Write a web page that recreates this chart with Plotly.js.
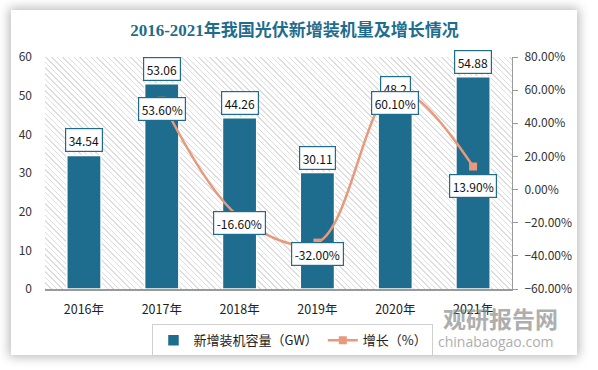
<!DOCTYPE html>
<html>
<head>
<meta charset="utf-8">
<script src="https://cdn.plot.ly/plotly-3.0.1.min.js"></script>
<style>
  html, body { margin:0; padding:0; background:#ffffff; width:598px; height:370px; overflow:hidden; }
  #card { position:absolute; left:11px; top:10px; width:566px; height:345px; background:#fff;
          box-shadow:0 0 10px 2px rgba(0,0,0,0.28); }
  #hatch { position:absolute; left:45px; top:57px; width:467px; height:232px;
           background:repeating-linear-gradient(45deg, #dedede 0px, #dedede 1px, rgba(255,255,255,0) 1px, rgba(255,255,255,0) 4px); }
  #chart { position:absolute; left:0; top:0; width:598px; height:370px; }
</style>
</head>
<body>
<div id="card"></div>
<div id="hatch"></div>
<div id="chart"></div>
<script>
// ---- data ----
const years = ['2016年', '2017年', '2018年', '2019年', '2020年', '2021年'];
const capacity = [34.54, 53.06, 44.26, 30.11, 48.2, 54.88];
const capacityLabels = ['34.54', '53.06', '44.26', '30.11', '48.2', '54.88'];
const growth = [null, 53.60, -16.60, -32.00, 60.10, 13.90];
const growthLabels = ['', '53.60%', '-16.60%', '-32.00%', '60.10%', '13.90%'];

// ---- styles ----
const barColor = '#1f6d8e';
const lineColor = '#e9997b';
const growthLabelShift = [0, -8, -6, -11, -13, -19];
const fontFam = '"Noto Sans CJK SC", "Noto Sans", sans-serif';

const traces = [
  {
    type: 'bar', name: '新增装机容量（GW）', x: years, y: capacity,
    marker: { color: barColor, line: { color: '#ffffff', width: 1.5 } },
    width: 0.44, hoverinfo: 'skip'
  },
  {
    type: 'scatter', mode: 'lines+markers', name: '增长（%）', x: years, y: growth, yaxis: 'y2',
    line: { color: lineColor, width: 2.5, shape: 'spline', smoothing: 1 },
    marker: { color: lineColor, symbol: 'square', size: 8 },
    hoverinfo: 'skip'
  }
];

const annotations = [];
years.forEach((yr, i) => {
  annotations.push({
    x: yr, y: capacity[i], xref: 'x', yref: 'y', text: capacityLabels[i], showarrow: false,
    yanchor: 'bottom', yshift: 3, font: { family: fontFam, size: 12, color: '#111' },
    bgcolor: '#ffffff', bordercolor: barColor, borderwidth: 1.2, borderpad: 2.5
  });
  if (growth[i] !== null) {
    annotations.push({
      x: yr, y: growth[i], xref: 'x', yref: 'y2', text: growthLabels[i], showarrow: false,
      yanchor: 'middle', yshift: growthLabelShift[i], font: { family: fontFam, size: 12, color: '#111' },
      bgcolor: '#ffffff', bordercolor: barColor, borderwidth: 1.2, borderpad: 2.5
    });
  }
});
// watermark
annotations.push({
  xref: 'paper', yref: 'paper', x: 0.976, y: -0.125, xanchor: 'center', yanchor: 'middle',
  text: '<b>观研报告网</b>', showarrow: false, opacity: 0.7,
  font: { family: fontFam, size: 23, color: '#8c8c8c' }
});
annotations.push({
  xref: 'paper', yref: 'paper', x: 0.966, y: -0.225, xanchor: 'center', yanchor: 'middle',
  text: 'chinabaogao.com', showarrow: false, opacity: 0.7,
  font: { family: '"Open Sans", sans-serif', size: 14, color: '#8c8c8c' }
});

const layout = {
  width: 598, height: 370,
  margin: { l: 45, r: 86, t: 57, b: 81 },
  paper_bgcolor: 'rgba(0,0,0,0)', plot_bgcolor: 'rgba(0,0,0,0)',
  font: { family: fontFam, size: 12, color: '#333' },
  title: {
    text: '2016-2021年我国光伏新增装机量及增长情况',
    x: 294.5 / 598, xanchor: 'center', y: 1 - 30 / 370, yanchor: 'middle',
    font: { family: '"Liberation Serif", "Noto Sans CJK SC", serif', size: 17, color: '#1f6d8e', weight: 'bold' }
  },
  xaxis: {
    type: 'category', showline: true, linecolor: '#9a9a9a', linewidth: 1.5,
    showgrid: false, ticks: '', tickfont: { size: 12.5, color: '#222' }, ticklabelstandoff: 8
  },
  yaxis: {
    range: [0, 60], dtick: 10, showgrid: false, zeroline: false, showline: false,
    ticks: '', tickfont: { size: 12, color: '#333' }, ticklabelstandoff: 12
  },
  yaxis2: {
    overlaying: 'y', side: 'right', range: [-60, 80], dtick: 20,
    tickformat: '.2f', ticksuffix: '%', showgrid: false, zeroline: false,
    showline: true, linecolor: '#9a9a9a', linewidth: 1, ticks: 'outside', ticklen: 5,
    tickcolor: '#9a9a9a', tickfont: { size: 12, color: '#333' }, ticklabelstandoff: 4
  },
  showlegend: true,
  legend: {
    orientation: 'h', x: 0.531, xanchor: 'center', y: -0.152, yanchor: 'top',
    bordercolor: '#cfcfcf', borderwidth: 1, bgcolor: 'rgba(255,255,255,0)',
    font: { size: 13, color: '#222' }, itemwidth: 30, traceorder: 'normal'
  },
  annotations: annotations,
  bargap: 0.56
};

Plotly.newPlot('chart', traces, layout, { displayModeBar: false, staticPlot: true });
</script>
</body>
</html>
